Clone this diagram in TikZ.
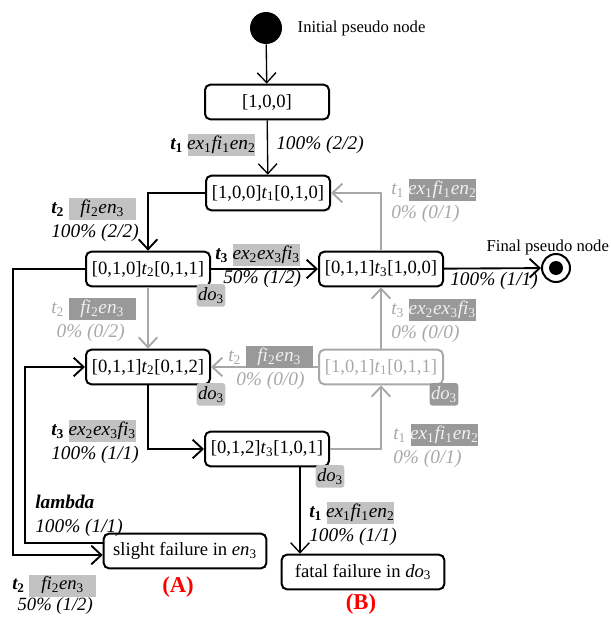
\documentclass[tikz,border=0pt]{standalone}
\usepackage{fontspec}
\setmainfont{Liberation Serif}
\usetikzlibrary{arrows.meta,positioning,calc}

\definecolor{hlgray}{gray}{0.76}
\definecolor{hldark}{gray}{0.6}
\definecolor{hltext}{gray}{0.94}
\definecolor{faded}{gray}{0.66}
\setlength{\fboxsep}{1pt}

\newcommand{\dn}[1]{\textsubscript{\upshape #1}}
\newcommand{\trb}[1]{\textbf{\textit{t}\textsubscript{\upshape\bfseries #1}}}
\newcommand{\trg}[1]{\textit{t}\textsubscript{\upshape #1}}
\newcommand{\hlbox}[1]{\colorbox{hlgray}{\rule[-4pt]{0pt}{12.5pt}\makebox[48pt]{\itshape #1}}}
\newcommand{\hldk}[1]{\colorbox{hldark}{\rule[-4pt]{0pt}{12.5pt}\makebox[48pt]{\color{hltext}\itshape #1}}}

\begin{document}
\begin{tikzpicture}[x=0.75pt,y=-0.75pt,
  >={Straight Barb[length=7.5pt,width=14pt]},
  state/.style={draw, line width=1.5pt, rounded corners=4pt, minimum width=93pt,
    minimum height=26pt, inner sep=2pt, font=\fontsize{14}{16}\selectfont},
  fadedstate/.style={state, draw=faded, text=faded},
  failstate/.style={state, minimum width=122pt},
  trans/.style={->, line width=1.4pt},
  thintrans/.style={->, line width=1pt},
  fadedtrans/.style={->, line width=1.4pt, draw=faded},
  lbl/.style={anchor=west, align=left, inner sep=0pt, font=\fontsize{14.5}{18}\selectfont\itshape},
  fadedlbl/.style={lbl, text=faded},
  dotag/.style={fill=hlgray, rounded corners=2pt, inner sep=1pt, minimum height=17pt,
    font=\fontsize{14}{15}\selectfont\itshape},
  fadedtag/.style={dotag, fill=hldark, text=hltext},
  tagname/.style={font=\fontsize{17}{19}\selectfont\bfseries, text=red}]

  \useasboundingbox (0,0) rectangle (610,617);

  % Pseudo nodes
  \node[circle, fill, minimum size=24pt, inner sep=0pt] (init) at (266,28) {};
  \node[anchor=west, font=\fontsize{12.5}{14}\selectfont] (initlbl) at (293,28) {Initial pseudo node};
  \node[circle, draw, line width=1.5pt, minimum size=21pt, inner sep=0pt] (fin) at (556,268) {};
  \fill (fin.center) circle (7);
  \node[anchor=west, font=\fontsize{12.5}{14}\selectfont] (finlbl) at (482,247) {Final pseudo node};

  % States
  \node[state] (s100) at (267,102) {[1,0,0]};
  \node[state] (s100t1) at (268,193) {[1,0,0]\trg{1}[0,1,0]};
  \node[state] (s010t2) at (148,269) {[0,1,0]\trg{2}[0,1,1]};
  \node[state] (s011t3) at (381,269) {[0,1,1]\trg{3}[1,0,0]};
  \node[state] (s011t2) at (148,367) {[0,1,1]\trg{2}[0,1,2]};
  \node[fadedstate] (s101t1) at (381,367) {[1,0,1]\trg{1}[0,1,1]};
  \node[state] (s012t3) at (267,449) {[0,1,2]\trg{3}[1,0,1]};
  \node[failstate] (slight) at (185,551) {slight failure in \textit{en}\dn{3}};
  \node[failstate] (fatal) at (363,572) {fatal failure in \textit{do}\dn{3}};

  % do tags
  \node[dotag] (tag1) at ($(s010t2.south east)+(0,8)$) {do\dn{3}};
  \node[dotag] (tag2) at ($(s011t2.south east)+(0,9)$) {do\dn{3}};
  \node[dotag] (tag3) at ($(s012t3.south east)+(0,9)$) {do\dn{3}};
  \node[fadedtag] (tag4) at ($(s101t1.south east)+(0,9)$) {do\dn{3}};

  % Bend points
  \coordinate (fx) at (300,0);
  \coordinate (lx) at (25,0);
  \coordinate (bendA) at (13,555);

  % Transitions
  \draw[thintrans] (init) -- (s100);
  \draw[thintrans] (s100) -- (s100t1);
  \draw[trans] (s100t1.west) -| (s010t2.north);
  \draw[trans] (s010t2) -- (s011t3);
  \draw[trans] (s011t3) -- (fin);
  \draw[fadedtrans] (s011t3.north) |- (s100t1.east);
  \draw[fadedtrans] (s010t2) -- (s011t2);
  \draw[fadedtrans] (s101t1) -- (s011t2);
  \draw[fadedtrans] (s101t1) -- (s011t3);
  \draw[trans] (s011t2.south) |- (s012t3.west);
  \draw[fadedtrans] (s012t3.east) -| (s101t1.south);
  \draw[thintrans] (s012t3.south -| fx) -- (fatal.north -| fx);
  \draw[trans] ([yshift=6pt]slight.west) -| (lx |- s011t2.west) -- (s011t2.west);
  \draw[trans] (s010t2.west) -| (bendA) -- (slight.west |- bendA);

  % Labels
  \node[lbl] (l100a) at (170,145) {\trb{1} \hlbox{ex\dn{1}fi\dn{1}en\dn{2}}};
  \node[lbl] (l100b) at (276,145) {100\% (2/2)};
  \node[lbl] (lt2) at (51,220) {\trb{2} \hlbox{fi\dn{2}en\dn{3}}\\100\% (2/2)};
  \node[lbl] (lt3) at (215,266) {\trb{3} \hlbox{ex\dn{2}ex\dn{3}fi\dn{3}}\\\hspace*{6pt}50\% (1/2)};
  \node[lbl] (lfin) at (450,281) {100\% (1/1)};
  \node[fadedlbl] (gt1a) at (391,201) {\trg{1} \hldk{ex\dn{1}fi\dn{1}en\dn{2}}\\0\% (0/1)};
  \node[fadedlbl] (gt2a) at (51,320) {\trg{2} \hldk{fi\dn{2}en\dn{3}}\\\hspace*{4pt}0\% (0/2)};
  \node[fadedlbl] (gt3) at (391,321) {\trg{3} \hldk{ex\dn{2}ex\dn{3}fi\dn{3}}\\0\% (0/0)};
  \node[fadedlbl] (gt2b) at (228,368) {\trg{2} \hldk{fi\dn{2}en\dn{3}}\\\hspace*{6pt}0\% (0/0)};
  \node[lbl] (lt3b) at (51,442) {\trb{3} \hlbox{ex\dn{2}ex\dn{3}fi\dn{3}}\\100\% (1/1)};
  \node[fadedlbl] (gt1b) at (393,446) {\trg{1} \hldk{ex\dn{1}fi\dn{1}en\dn{2}}\\0\% (0/1)};
  \node[lbl] (lt1) at (309,524) {\trb{1} \hlbox{ex\dn{1}fi\dn{1}en\dn{2}}\\100\% (1/1)};
  \node[lbl] (llam) at (35,516) {\textbf{lambda}\\100\% (1/1)};
  \node[lbl, font=\fontsize{14}{15.5}\selectfont\itshape] (lt2b) at (12,595) {\trb{2} \hlbox{fi\dn{2}en\dn{3}}\\\hspace*{4pt}50\% (1/2)};

  % Case tags
  \node[tagname] (caseA) at (178,587) {(A)};
  \node[tagname] (caseB) at (361,604) {(B)};
\end{tikzpicture}
\end{document}
